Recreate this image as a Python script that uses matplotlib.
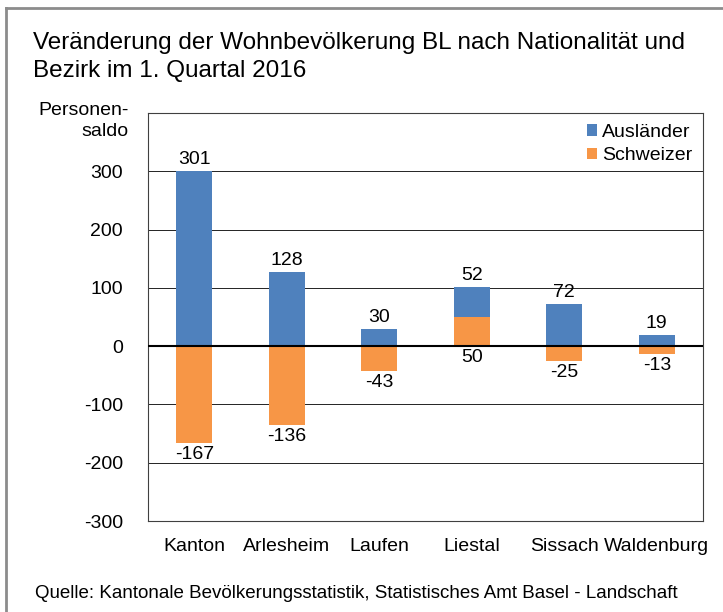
import matplotlib.pyplot as plt
from matplotlib.lines import Line2D

plt.rcParams['font.family'] = ['Liberation Sans', 'DejaVu Sans']

bezirke = ['Kanton', 'Arlesheim', 'Laufen', 'Liestal', 'Sissach', 'Waldenburg']
auslaender = [301, 128, 30, 52, 72, 19]
schweizer = [-167, -136, -43, 50, -25, -13]
y_ticks = [-300, -200, -100, 0, 100, 200, 300]

blau = '#4F81BD'
orange = '#F79646'


def main():
    fig = plt.figure(figsize=(7.23, 6.12), dpi=100)
    ax = fig.add_axes([148 / 723, 1 - 521 / 612, 555 / 723, 408 / 612])

    x = list(range(len(bezirke)))
    # Schweizer zuerst, Ausländer darauf gestapelt (bei positivem Saldo)
    unten = [s if s > 0 else 0 for s in schweizer]
    ax.bar(x, schweizer, width=0.39, color=orange, zorder=3, label='Schweizer')
    ax.bar(x, auslaender, width=0.39, bottom=unten, color=blau, zorder=3, label='Ausländer')

    for i in x:
        oben = unten[i] + auslaender[i]
        ax.text(i, oben + 5, str(auslaender[i]), ha='center', va='bottom', fontsize=14)
        if schweizer[i] < 0:
            ax.text(i, schweizer[i] - 5, str(schweizer[i]), ha='center', va='top', fontsize=14)
        else:
            ax.text(i, -5, str(schweizer[i]), ha='center', va='top', fontsize=14)

    ax.set_xlim(-0.5, len(bezirke) - 0.5)
    ax.set_ylim(-300, 400)
    ax.set_yticks(y_ticks)
    ax.set_yticklabels([str(v) for v in y_ticks], fontsize=14)
    ax.set_xticks(x)
    ax.set_xticklabels(bezirke, fontsize=14)
    ax.tick_params(axis='y', length=0, pad=18)
    ax.tick_params(axis='x', length=0, pad=12)
    ax.grid(axis='y', color='#000000', linewidth=0.6, zorder=0)
    ax.axhline(0, color='black', linewidth=1.5, zorder=4)
    for s in ax.spines.values():
        s.set_color('#404040')
        s.set_linewidth(0.8)

    handles, labels = ax.get_legend_handles_labels()
    ax.legend(handles[::-1], labels[::-1], loc='upper right', frameon=False, fontsize=14,
              handlelength=0.55, handleheight=0.55, handletextpad=0.25, labelspacing=0.35,
              borderaxespad=0.15)

    fig.text(33 / 723, 1 - 57 / 612, 'Veränderung der Wohnbevölkerung BL nach Nationalität und\n'
             'Bezirk im 1. Quartal 2016', fontsize=17.5, va='center', ha='left', linespacing=1.35)
    fig.text(129 / 723, 1 - 121 / 612, 'Personen-\nsaldo', fontsize=14, ha='right', va='center',
             linespacing=1.3)
    fig.text(35 / 723, 1 - 593 / 612,
             'Quelle: Kantonale Bevölkerungsstatistik, Statistisches Amt Basel - Landschaft',
             fontsize=13.5, ha='left', va='center')

    # grauer Rahmen links und oben
    rahmen_x = 6.5 / 723
    rahmen_y = 1 - 8 / 612
    fig.add_artist(Line2D([rahmen_x, rahmen_x], [0, rahmen_y], transform=fig.transFigure,
                          color='#8c8c8c', linewidth=2))
    fig.add_artist(Line2D([rahmen_x, 1], [rahmen_y, rahmen_y], transform=fig.transFigure,
                          color='#8c8c8c', linewidth=2))

    fig.savefig('out.png', dpi=100)


if __name__ == '__main__':
    main()
